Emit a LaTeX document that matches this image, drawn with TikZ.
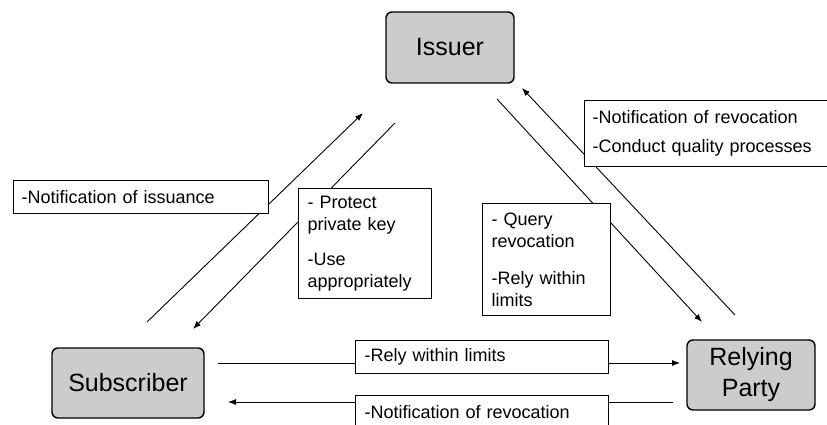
\documentclass[tikz,border=0pt]{standalone}
\usepackage{fontspec}
\setmainfont{Liberation Sans}
\usetikzlibrary{arrows.meta}
\begin{document}
\begin{tikzpicture}[x=1pt,y=-1pt,
  party/.style={draw, line width=1.4pt, fill={rgb,255:red,204;green,204;blue,204},
    rounded corners=6pt, align=center, inner sep=0pt,
    font=\fontsize{25}{31}\selectfont},
  note/.style={draw, line width=1.3pt, fill=white, anchor=north west,
    align=left, inner ysep=0pt, inner xsep=8pt,
    font=\fontsize{18}{22}\selectfont},
  flow/.style={line width=0.9pt, -{Latex[length=8pt,width=6pt]}},
  plain/.style={line width=0.9pt}]
\useasboundingbox (0,0) rectangle (827,425);

% the three parties
\node[party, minimum width=128pt, minimum height=71pt] (issuer) at (450,47.5) {Issuer};
\node[party, minimum width=152pt, minimum height=70pt] (subscriber) at (128,383) {Subscriber};
\node[party, minimum width=128pt, minimum height=70pt] (relying) at (751,375) {Relying\\Party};

% connector end points
\coordinate (s1) at (147,322);
\coordinate (i1) at (363,113);
\coordinate (i2) at (395,123);
\coordinate (s2) at (193,329);
\coordinate (i3) at (497,99);
\coordinate (r1) at (702,322);
\coordinate (r2) at (735,315);
\coordinate (i4) at (522,88);
\coordinate (s3) at (218,363);
\coordinate (r3) at (680,363);
\coordinate (r4) at (673,402);
\coordinate (s4) at (228,402);

% message flows
\draw[flow] (s1) -- (i1);
\draw[flow] (i2) -- (s2);
\draw[flow] (i3) -- (r1);
\draw[flow] (r2) -- (i4);
\draw[flow] (s3) -- (r3);
\draw[flow] (r4) -- (s4);

% obligation notes laid over the flows
\node[note, minimum width=255pt, minimum height=33pt, text width=239pt] (issuance) at (13,180)
  {-Notification of issuance};
\node[note, minimum width=131pt, minimum height=110pt, text width=115pt, inner xsep=9pt] (protect) at (298,188)
  {- Protect\\private key\\[13pt]-Use\\appropriately};
\node[note, minimum width=126pt, minimum height=112pt, text width=110pt, inner xsep=9pt] (query) at (482,203)
  {- Query\\revocation\\[15pt]-Rely within\\limits};
\node[note, minimum width=250pt, minimum height=66pt, text width=234pt] (toprev) at (584,100)
  {-Notification of revocation\\[7pt]-Conduct quality processes};
\node[note, minimum width=253pt, minimum height=33pt, text width=235pt, inner xsep=9pt] (rely) at (355,340)
  {-Rely within limits};
\node[note, minimum width=253pt, minimum height=32pt, text width=235pt, inner xsep=9pt] (botrev) at (355,395)
  {-Notification of revocation};
\end{tikzpicture}
\end{document}
